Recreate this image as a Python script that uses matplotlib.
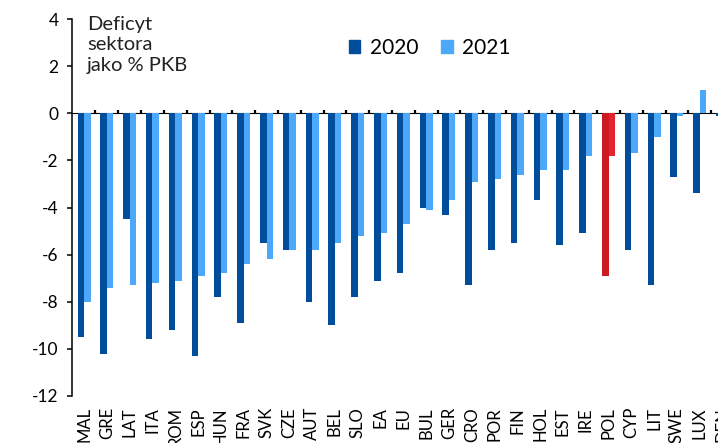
import numpy as np
import matplotlib
matplotlib.use("Agg")
import matplotlib.pyplot as plt
from matplotlib.patches import Patch

plt.rcParams['font.family'] = ['Lato', 'DejaVu Sans']

countries = ['MAL', 'GRE', 'LAT', 'ITA', 'ROM', 'ESP', 'HUN', 'FRA', 'SVK', 'CZE',
             'AUT', 'BEL', 'SLO', 'EA', 'EU', 'BUL', 'GER', 'CRO', 'POR', 'FIN',
             'HOL', 'EST', 'IRE', 'POL', 'CYP', 'LIT', 'SWE', 'LUX', 'DEN']
def_2020 = [-9.5, -10.2, -4.5, -9.6, -9.2, -10.3, -7.8, -8.9, -5.5, -5.8,
            -8.0, -9.0, -7.8, -7.1, -6.8, -4.0, -4.3, -7.3, -5.8, -5.5,
            -3.7, -5.6, -5.1, -6.9, -5.8, -7.3, -2.7, -3.4, -0.1]
def_2021 = [-8.0, -7.4, -7.3, -7.2, -7.1, -6.9, -6.8, -6.4, -6.2, -5.8,
            -5.8, -5.5, -5.2, -5.1, -4.7, -4.1, -3.7, -2.9, -2.8, -2.6,
            -2.4, -2.4, -1.8, -1.8, -1.7, -1.0, -0.1, 1.0, -0.2]
years = ['2020', '2021']
yticks = [-12, -10, -8, -6, -4, -2, 0, 2, 4]

c20 = '#004D9B'
c21 = '#4DA8FA'
red20 = '#CC1922'
red21 = '#E52330'

W, H = 718, 443
fig = plt.figure(figsize=(W / 100, H / 100), dpi=100)
# axes runs past the right edge, so the last group gets cut like in the source
ax = fig.add_axes([72 / W, 47 / H, 662 / W, 377 / H])

x = np.arange(len(countries))
bw = 0.285
cols20 = [red20 if c == 'POL' else c20 for c in countries]
cols21 = [red21 if c == 'POL' else c21 for c in countries]
ax.bar(x - bw / 2, def_2020, bw, color=cols20, zorder=2)
ax.bar(x + bw / 2, def_2021, bw, color=cols21, zorder=2)

ax.set_xlim(-0.53, len(countries) - 0.5)
ax.set_ylim(-12, 4)
ax.set_yticks(yticks)
ax.set_yticklabels([str(v) for v in yticks], fontsize=12.5)
ax.tick_params(axis='y', direction='out', length=3.6, width=1.1, pad=6)

ax.set_xticks(x)
ax.set_xticklabels(countries, rotation=90, fontsize=12, va='top')
ax.tick_params(axis='x', length=0, pad=8)

for s in ['top', 'right', 'bottom']:
    ax.spines[s].set_visible(False)
ax.spines['left'].set_linewidth(1.1)

# zero line with small ticks between the country groups
zero = ax.secondary_xaxis(12 / 16)
zero.set_xticks(x[:-1] + 0.5)
zero.set_xticklabels([])
zero.tick_params(direction='out', length=2.5, width=1.6)
zero.spines['bottom'].set_linewidth(1.6)

fig.text(87 / W, 1 - 16 / H, 'Deficyt\nsektora\njako % PKB', fontsize=14.5,
         va='top', ha='left', linespacing=1.25, color='#222222')

handles = [Patch(color=c20), Patch(color=c21)]
fig.legend(handles, years, loc='center left', bbox_to_anchor=(349 / W, 1 - 48 / H),
           ncol=2, frameon=False, fontsize=15, handlelength=0.55, handleheight=0.55,
           handletextpad=0.45, columnspacing=1.1, borderpad=0, borderaxespad=0)

fig.savefig('out.png', dpi=100)
